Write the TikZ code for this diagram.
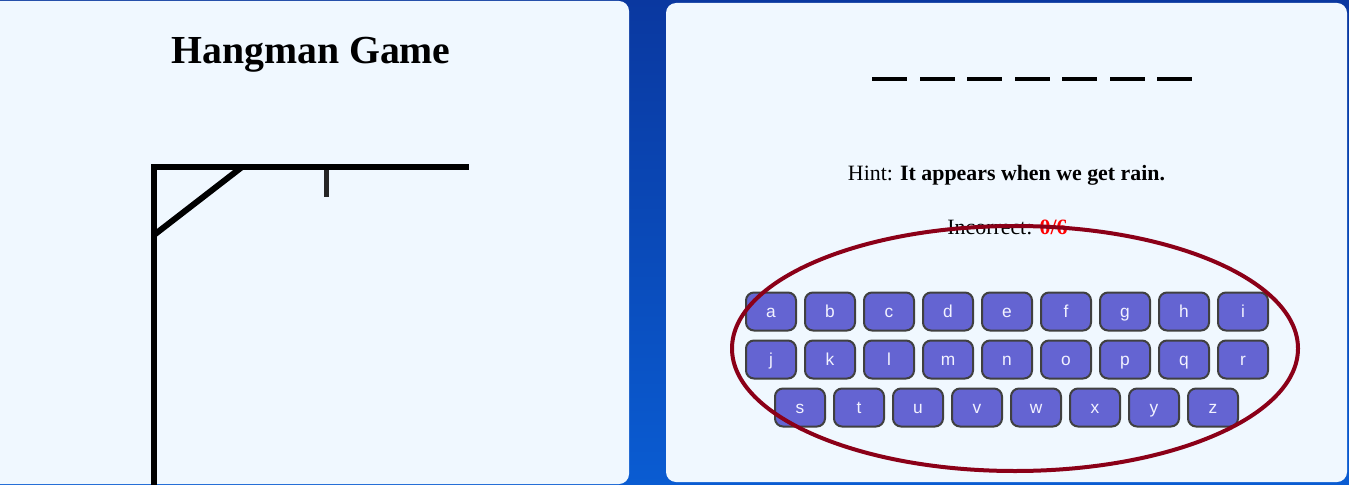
\documentclass[tikz,border=0pt]{standalone}
\usepackage{fontspec}
\setmainfont{Liberation Serif}
\setsansfont{Liberation Sans}
\usetikzlibrary{positioning}
\definecolor{panelbg}{HTML}{F0F8FF}
\definecolor{keyfill}{HTML}{6464D2}
\definecolor{keyedge}{HTML}{404040}
\definecolor{keytext}{HTML}{F2F2FF}
\definecolor{ringred}{HTML}{8B0018}
\definecolor{bgtop}{HTML}{0A38A0}
\definecolor{bgbot}{HTML}{0A5CD2}
\begin{document}
\begin{tikzpicture}[x=0.75pt, y=-0.75pt,
        key/.style={draw=keyedge, line width=1.5pt, fill=keyfill, rounded corners=6pt,
            minimum width=37.5pt, minimum height=28.5pt, inner sep=0pt,
            text height=8.5pt, text depth=0pt, text=keytext,
            font=\sffamily\fontsize{13}{15}\selectfont},
        blank/.style={fill=black, minimum width=26.25pt, minimum height=2.6pt, inner sep=0pt},
        beam/.style={line width=4.5pt}]
        \useasboundingbox (0,0) rectangle (1349,485);
        % Background and panels
        \shade[top color=bgtop, bottom color=bgbot] (0,0) rectangle (1349,485);
        \fill[panelbg, rounded corners=7.5pt] (-15,1) rectangle (629,484);
        \fill[panelbg, rounded corners=7.5pt] (666,3) rectangle (1347,482);

        % Title
        \node[anchor=base, font=\bfseries\fontsize{29.8}{34}\selectfont] (title) at (311,64) {Hangman Game};

        % Gallows
        \coordinate (foot) at (154,490);
        \coordinate (top) at (154,164);
        \coordinate (brace) at (154,235);
        \draw[beam] (151,167) coordinate (barL) -- (469,167) coordinate (barR);
        \draw[beam] (top) -- (foot);
        \draw[beam] (brace) -- (242,167);
        \draw[line width=3.8pt, black!85] (326.5,170) coordinate (ropeT) -- (326.5,196.5) coordinate (ropeB);

        % Word blanks
        \foreach \i in {1,...,7} {
            \node[blank] (blank\i) at ({889.5+47.5*(\i-1)},79) {};
        }

        % Hint and counter
        \node[anchor=base, font=\fontsize{16.4}{19}\selectfont] (hint) at (1006.5,180)
            {Hint: \textbf{It appears when we get rain.}};
        \node[anchor=base, font=\fontsize{16.4}{19}\selectfont] (count) at (1007.5,234)
            {Incorrect: \textcolor{red}{\textbf{0/6}}};

        % Keyboard rows
        \foreach \l [count=\i] in {a,...,i} {
            \node[key] (key\l) at ({771+59*(\i-1)},311.5) {\l};
        }
        \foreach \l [count=\i] in {j,...,r} {
            \node[key] (key\l) at ({771+59*(\i-1)},359.5) {\l};
        }
        \foreach \l [count=\i] in {s,...,z} {
            \node[key] (key\l) at ({800+59*(\i-1)},407.5) {\l};
        }

        % Ring round the keyboard
        \draw[ringred, line width=3pt] (1015,348.5) ellipse [x radius=283, y radius=122.5];
    \end{tikzpicture}
\end{document}
